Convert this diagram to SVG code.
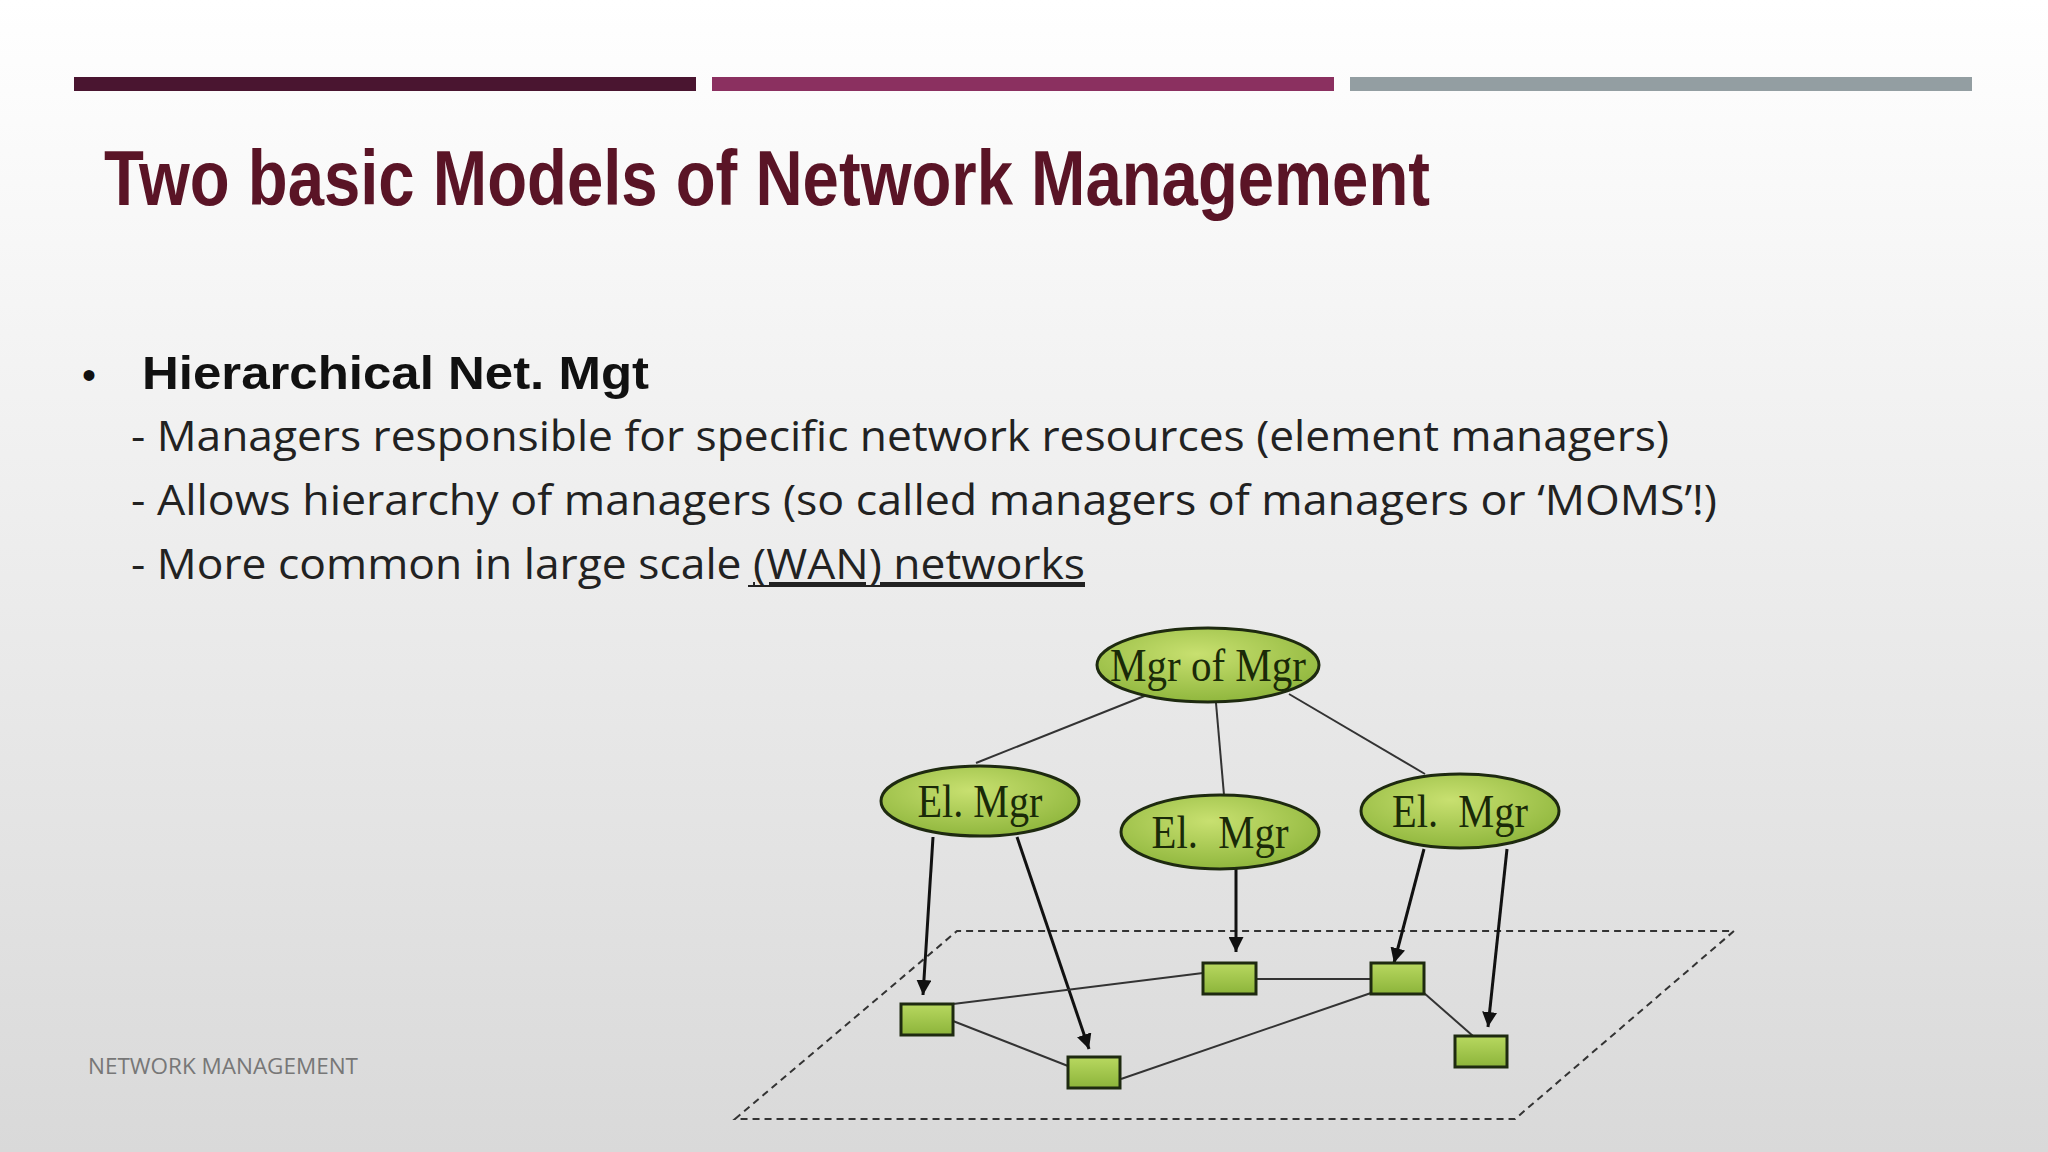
<svg xmlns="http://www.w3.org/2000/svg" width="2048" height="1152" viewBox="0 0 2048 1152">
<defs>
<linearGradient id="bg" x1="0" y1="0" x2="0" y2="1"><stop offset="0" stop-color="#ffffff"/><stop offset="1" stop-color="#d9d9d9"/></linearGradient>
<radialGradient id="gr" cx="0.45" cy="0.35" r="0.7"><stop offset="0" stop-color="#c8e070"/><stop offset="1" stop-color="#8cb43a"/></radialGradient>
<linearGradient id="sq" x1="0" y1="0" x2="0" y2="1"><stop offset="0" stop-color="#b8d860"/><stop offset="1" stop-color="#8cb43a"/></linearGradient>
<marker id="ah" viewBox="0 0 10 10" refX="10" refY="5" markerWidth="5" markerHeight="5" orient="auto"><path d="M0,0 L10,5 L0,10 z" fill="#111"/></marker>
<style>
.ell{fill:url(#gr);stroke:#1e2a10;stroke-width:3}
.sq{fill:url(#sq);stroke:#1e2a10;stroke-width:3}
.lbl{font-family:"Liberation Serif",serif;font-size:46px;fill:#1a2a08;text-anchor:middle}
.ln{stroke:#333;stroke-width:2;fill:none}
.ar{stroke:#111;stroke-width:3;fill:none;marker-end:url(#ah)}
.sub{font-family:"Open Sans",sans-serif;font-size:42px;fill:#222}
</style>
</defs>
<rect width="2048" height="1152" fill="url(#bg)"/>
<rect x="74" y="77" width="622" height="14" fill="#4a1530"/>
<rect x="712" y="77" width="622" height="14" fill="#8b3060"/>
<rect x="1350" y="77" width="622" height="14" fill="#939ea2"/>
<text x="104" y="205" font-family="Liberation Sans Narrow,Liberation Sans,sans-serif" font-weight="bold" font-size="78" fill="#5a1426" textLength="1326" lengthAdjust="spacingAndGlyphs">Two basic Models of Network Management</text>
<text x="82" y="389" font-family="Liberation Sans,sans-serif" font-size="40" fill="#111">•</text>
<text x="142" y="389" font-family="Liberation Sans,sans-serif" font-weight="bold" font-size="47" fill="#111" textLength="507" lengthAdjust="spacingAndGlyphs">Hierarchical Net. Mgt</text>
<text x="131" y="451" class="sub" textLength="1538" lengthAdjust="spacingAndGlyphs">- Managers responsible for specific network resources  (element managers)</text>
<text x="131" y="515" class="sub" textLength="1586" lengthAdjust="spacingAndGlyphs">- Allows hierarchy of managers (so called managers of  managers or ‘MOMS’!)</text>
<text x="131" y="579" class="sub" textLength="954" lengthAdjust="spacingAndGlyphs">- More common in large scale <tspan text-decoration="underline">(WAN) networks</tspan></text>
<line x1="748" y1="586" x2="1085" y2="586" stroke="#222" stroke-width="2"/>
<text x="88" y="1074" font-family="Open Sans,sans-serif" font-size="21" fill="#777" textLength="270" lengthAdjust="spacingAndGlyphs">NETWORK MANAGEMENT</text>
<polygon points="735,1119 957,931 1734,931 1515,1119" fill="none" stroke="#333" stroke-width="2" stroke-dasharray="7,5"/>
<g id="connectors">
<line class="ln" x1="1147" y1="695" x2="976" y2="763"/>
<line class="ln" x1="1216" y1="703" x2="1224" y2="795"/>
<line class="ln" x1="1289" y1="694" x2="1425" y2="774"/>
<line class="ar" x1="933" y1="837" x2="923" y2="995"/>
<line class="ar" x1="1017" y1="837" x2="1089" y2="1049"/>
<line class="ar" x1="1236" y1="869" x2="1236" y2="952"/>
<line class="ar" x1="1424" y1="849" x2="1394" y2="963"/>
<line class="ar" x1="1507" y1="849" x2="1488" y2="1027"/>
<line class="ln" x1="953" y1="1004" x2="1203" y2="973"/>
<line class="ln" x1="1256" y1="979" x2="1371" y2="979"/>
<line class="ln" x1="953" y1="1021" x2="1068" y2="1066"/>
<line class="ln" x1="1121" y1="1079" x2="1371" y2="993"/>
<line class="ln" x1="1424" y1="993" x2="1473" y2="1036"/>
</g>
<g id="mom"><ellipse class="ell" cx="1208" cy="665" rx="111" ry="37"/><text class="lbl" x="1208" y="681" textLength="196" lengthAdjust="spacingAndGlyphs">Mgr of Mgr</text></g>
<g id="el1"><ellipse class="ell" cx="980" cy="801" rx="99" ry="35"/><text class="lbl" x="980" y="817" textLength="125" lengthAdjust="spacingAndGlyphs">El. Mgr</text></g>
<g id="el2"><ellipse class="ell" cx="1220" cy="832" rx="99" ry="37"/><text class="lbl" x="1220" y="848" xml:space="preserve" textLength="137" lengthAdjust="spacingAndGlyphs">El.  Mgr</text></g>
<g id="el3"><ellipse class="ell" cx="1460" cy="811" rx="99" ry="37"/><text class="lbl" x="1460" y="827" xml:space="preserve" textLength="136" lengthAdjust="spacingAndGlyphs">El.  Mgr</text></g>
<g id="sA"><rect class="sq" x="901" y="1004" width="52" height="31"/></g>
<g id="sB"><rect class="sq" x="1068" y="1057" width="52" height="31"/></g>
<g id="sC"><rect class="sq" x="1203" y="963" width="53" height="31"/></g>
<g id="sD"><rect class="sq" x="1371" y="963" width="53" height="31"/></g>
<g id="sE"><rect class="sq" x="1455" y="1036" width="52" height="31"/></g>
</svg>
